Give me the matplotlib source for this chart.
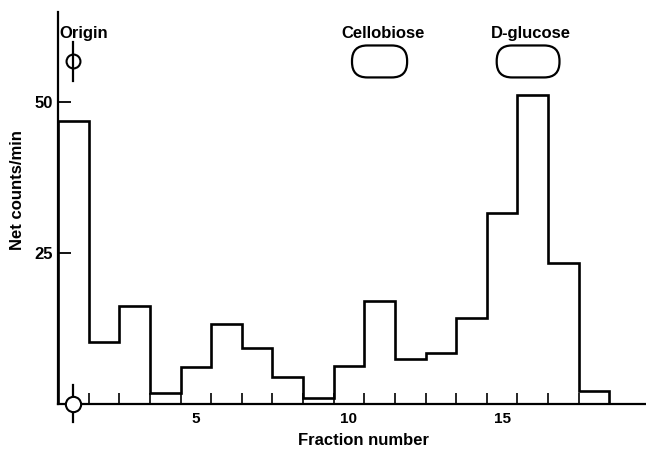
import numpy as np
import matplotlib
matplotlib.use("Agg")
import matplotlib.pyplot as plt
from matplotlib.patches import FancyBboxPatch

plt.rcParams['font.family'] = ['Liberation Sans', 'DejaVu Sans']

# ---------------- DATI ----------------
fractions = np.arange(1, 19)
counts = [47, 10.3, 16.2, 1.9, 6.2, 13.2, 9.3, 4.4, 1.0,
          6.3, 17.0, 7.4, 8.4, 14.3, 31.6, 51.3, 23.3, 2.2]
tick_labels = [5, 10, 15]

# standard positions (fraction, centre height)
origin_x = 1
standards = ["Cellobiose", "D-glucose"]
standard_x = [11.0, 15.85]
standard_w = [1.8, 2.05]
spot_y = 56.8
spot_h = 5.3

# ---------------- GRAFICO ----------------
fig = plt.figure(figsize=(6.46, 4.5), dpi=100)
ax = fig.add_axes([58 / 646, 46 / 450, 588 / 646, 392 / 450])

edges = np.arange(fractions[0] - 0.5, fractions[-1] + 1.0, 1.0)
ax.stairs(counts, edges, baseline=0, color='black', linewidth=1.9)

ax.set_xlim(0.5, 19.7)
ax.set_ylim(0, 65)

for side in ['top', 'right']:
    ax.spines[side].set_visible(False)
for side in ['left', 'bottom']:
    ax.spines[side].set_linewidth(1.6)

# tick ai bordi delle frazioni, etichette al centro
ax.set_xticks(tick_labels)
ax.set_xticklabels([str(t) for t in tick_labels], fontsize=11, fontweight='bold')
ax.tick_params(axis='x', which='major', length=0, pad=6)
ax.set_xticks(edges[1:-1], minor=True)
ax.tick_params(axis='x', which='minor', direction='in', length=8, width=1.2)

ax.set_yticks([25, 50])
ax.set_yticklabels(['25', '50'], fontsize=12, fontweight='bold')
ax.tick_params(axis='y', direction='in', length=9, width=1.3, pad=4)

ax.set_xlabel("Fraction number", fontsize=12, fontweight='bold')
ax.xaxis.set_label_coords(0.519, -0.075)
ax.set_ylabel("Net counts/min", fontsize=12, fontweight='bold')
ax.yaxis.set_label_coords(-0.056, 0.546)

# origine (in alto e sulla linea di base)
ax.plot([origin_x, origin_x], [53.6, 60.0], color='black', lw=1.6, clip_on=False)
ax.plot(origin_x, 56.8, marker='o', ms=10, mfc='none', mec='black', mew=1.5, clip_on=False)
ax.plot([origin_x, origin_x], [-3.0, 3.1], color='black', lw=1.6, clip_on=False)
ax.plot(origin_x, 0, marker='o', ms=11, mfc='white', mec='black', mew=1.5, clip_on=False, zorder=5)
ax.text(origin_x + 0.33, 61.5, "Origin", ha='center', va='center', fontsize=12, fontweight='bold')

# macchie degli standard
aspect = (65 / 392) / (19.2 / 588)
for name, x, w in zip(standards, standard_x, standard_w):
    box = FancyBboxPatch((x - w / 2, spot_y - spot_h / 2), w, spot_h,
                         boxstyle="round,pad=0,rounding_size=0.5",
                         mutation_aspect=aspect, fc='none', ec='black', lw=1.6)
    ax.add_patch(box)
    ax.text(x + 0.1, 61.5, name, ha='center', va='center', fontsize=12, fontweight='bold')

fig.savefig("out.png", dpi=100)
